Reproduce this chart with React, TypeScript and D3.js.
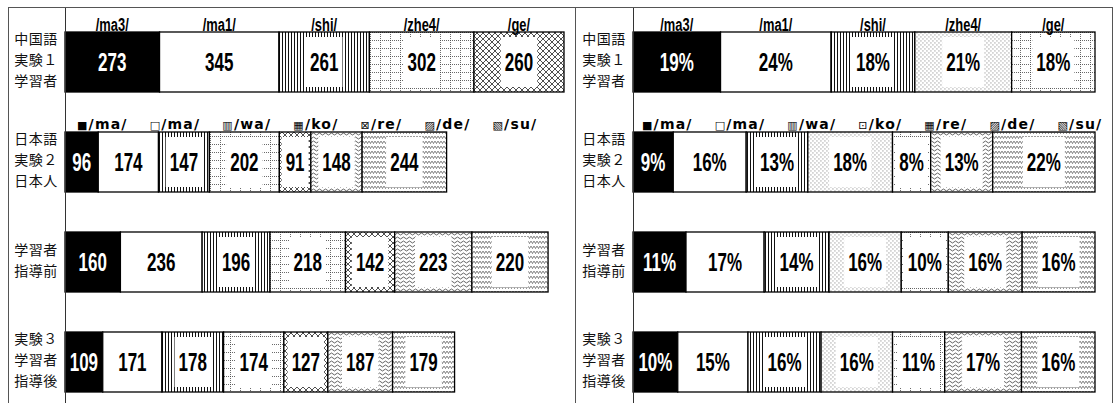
import React from "react";
import * as d3 from "d3";

// ---------- data ----------
const chineseSyllables = ["/ma3/", "/ma1/", "/shi/", "/zhe4/", "/ge/"];
const japaneseSyllables = ["/ma/", "/ma/", "/wa/", "/ko/", "/re/", "/de/", "/su/"];
const leftLegendIcons = ["■", "□", "▥", "▦", "⊠", "▨", "▧"];
const rightLegendIcons = ["■", "□", "▥", "⊡", "▦", "▨", "▧"];

const rowLabels = [
  ["中国語", "実験１", "学習者"],
  ["日本語", "実験２", "日本人"],
  ["学習者", "指導前"],
  ["実験３", "学習者", "指導後"],
];

const exp1Learners = [273, 345, 261, 302, 260];
const exp2Natives = [96, 174, 147, 202, 91, 148, 244];
const learnersBefore = [160, 236, 196, 218, 142, 223, 220];
const learnersAfter = [109, 171, 178, 174, 127, 187, 179];

const exp1Pct = [19, 24, 18, 21, 18];
const exp2Pct = [9, 16, 13, 18, 8, 13, 22];
const beforePct = [11, 17, 14, 16, 10, 16, 16];
const afterPct = [10, 15, 16, 16, 11, 17, 16];

const countRows = [exp1Learners, exp2Natives, learnersBefore, learnersAfter];
const pctRows = [exp1Pct, exp2Pct, beforePct, afterPct];

// pattern ids per segment
const leftPatterns = [
  ["black", "white", "vlines", "grid", "cross"],
  ["black", "white", "vlines", "grid", "cross", "wavy", "zig"],
  ["black", "white", "vlines", "grid", "cross", "wavy", "zig"],
  ["black", "white", "vlines", "grid", "cross", "wavy", "zig"],
];
const rightPatterns = [
  ["black", "white", "vlines", "dots", "grid"],
  ["black", "white", "vlines", "dots", "grid", "wavy", "zig"],
  ["black", "white", "vlines", "dots", "grid", "wavy", "zig"],
  ["black", "white", "vlines", "dots", "grid", "wavy", "zig"],
];

const W = 1115;
const H = 403;
const NUM_FONT = "'Liberation Sans', Arial, sans-serif";
const CJK_FONT = "'Noto Sans CJK JP', sans-serif";

const y = d3.scaleBand<number>().domain([0, 1, 2, 3]).range([32, 392]).paddingInner(0.4).paddingOuter(0);

function Defs() {
  return (
    <defs>
      <pattern id="black" patternUnits="userSpaceOnUse" width="4" height="4">
        <rect width="4" height="4" fill="#000" />
      </pattern>
      <pattern id="white" patternUnits="userSpaceOnUse" width="4" height="4">
        <rect width="4" height="4" fill="#fff" />
      </pattern>
      <pattern id="vlines" patternUnits="userSpaceOnUse" width="3" height="3">
        <rect width="3" height="3" fill="#fff" />
        <rect x="0" width="1" height="3" fill="#111" />
      </pattern>
      <pattern id="grid" patternUnits="userSpaceOnUse" width="10" height="8">
        <rect width="10" height="8" fill="#fff" />
        <path d="M0 0.5 H10" stroke="#444" strokeWidth="0.8" strokeDasharray="1 1" />
        <path d="M0.5 0 V8" stroke="#444" strokeWidth="0.8" strokeDasharray="1 1" />
      </pattern>
      <pattern id="cross" patternUnits="userSpaceOnUse" width="6" height="6">
        <rect width="6" height="6" fill="#fff" />
        <path d="M0 0 L6 6 M6 0 L0 6" stroke="#222" strokeWidth="0.8" />
      </pattern>
      <pattern id="wavy" patternUnits="userSpaceOnUse" width="6" height="4">
        <rect width="6" height="4" fill="#fff" />
        <path d="M0 2 Q1.5 0 3 2 T6 2" fill="none" stroke="#222" strokeWidth="0.7" />
      </pattern>
      <pattern id="zig" patternUnits="userSpaceOnUse" width="3" height="5">
        <rect width="3" height="5" fill="#fff" />
        <path d="M0 1 L1.5 3.5 L3 1" fill="none" stroke="#333" strokeWidth="0.6" />
      </pattern>
      <pattern id="dots" patternUnits="userSpaceOnUse" width="4" height="4">
        <rect width="4" height="4" fill="#fff" />
        <rect x="0.5" y="0.5" width="0.9" height="0.9" fill="#555" />
        <rect x="2.5" y="2.5" width="0.9" height="0.9" fill="#555" />
      </pattern>
    </defs>
  );
}

function estWidth(s: string) {
  let w = 0;
  for (const c of s) w += c === "%" ? 15 : 9.5;
  return w;
}

function Narrow({ x, y, size, squeeze, fill, children }: { x: number; y: number; size: number; squeeze: number; fill?: string; children: React.ReactNode }) {
  return (
    <text
      transform={`translate(${x},${y}) scale(${squeeze},1)`}
      textAnchor="middle"
      fontFamily={NUM_FONT}
      fontWeight="bold"
      fontSize={size}
      fill={fill ?? "#000"}
    >
      {children}
    </text>
  );
}

type PanelProps = {
  axisX: number;
  x: d3.ScaleLinear<number, number>;
  normalize: boolean;
  patterns: string[][];
  labels: (r: number, i: number) => string;
  labelX: number;
  icons: string[];
  legendX: number;
};

function Panel({ axisX, x, normalize, patterns, labels, labelX, icons, legendX }: PanelProps) {
  return (
    <g>
      {countRows.map((row, r) => {
        const total = d3.sum(row);
        const cum = d3.cumsum(row);
        const scale = (v: number) => (normalize ? x(v / total) : x(v));
        const top = y(r)!;
        const bh = y.bandwidth();
        return (
          <g key={r}>
            {row.map((v, i) => {
              const x0 = scale(cum[i] - v);
              const x1 = scale(cum[i]);
              const cx = (x0 + x1) / 2;
              const cy = top + bh / 2;
              const lab = labels(r, i);
              const pat = patterns[r][i];
              const bw = Math.min(estWidth(lab) + 8, x1 - x0 - 4);
              return (
                <g key={i}>
                  <rect x={x0} y={top} width={x1 - x0} height={bh} fill={`url(#${pat})`} stroke="#000" strokeWidth={1.3} />
                  {pat !== "black" && pat !== "white" && (
                    <rect x={cx - bw / 2} y={top + 5} width={bw} height={bh - 10} fill="#fff" />
                  )}
                  <Narrow x={cx} y={cy + 9} size={25} squeeze={0.68} fill={pat === "black" ? "#fff" : "#000"}>
                    {lab}
                  </Narrow>
                </g>
              );
            })}
            {r === 0 &&
              chineseSyllables.map((s, i) => (
                <Narrow key={"h" + i} x={(scale(cum[i] - row[i]) + scale(cum[i])) / 2} y={top - 1} size={19} squeeze={0.68}>
                  {s}
                </Narrow>
              ))}
            {rowLabels[r].map((t, k) => (
              <text
                key={"l" + k}
                x={labelX}
                y={top + bh / 2 - 1.5 + (k - (rowLabels[r].length - 1) / 2) * 21}
                dy="0.35em"
                textAnchor="middle"
                fontFamily={CJK_FONT}
                fontSize={14}
                letterSpacing={0.5}
                fill="#111"
              >
                {t}
              </text>
            ))}
          </g>
        );
      })}
      <text x={legendX} y={129} fontFamily="'DejaVu Sans', sans-serif" fontWeight="bold" fontSize={14} letterSpacing={1.2}>
        {japaneseSyllables.map((s, i) => (
          <React.Fragment key={i}>
            <tspan dx={i === 0 ? 0 : 22} fontSize={11} fontWeight="normal">
              {icons[i]}
            </tspan>
            <tspan fontSize={14} fontWeight="bold">{s}</tspan>
          </React.Fragment>
        ))}
      </text>
      <line x1={axisX} x2={axisX} y1={7} y2={H} stroke="#333" strokeWidth={1} />
    </g>
  );
}

export default function App() {
  const maxTotal = d3.max(countRows, (r) => d3.sum(r))!;
  const xLeft = d3.scaleLinear().domain([0, maxTotal]).range([65, 564]);
  const xRight = d3.scaleLinear().domain([0, 1]).range([633, 1095]);
  return (
    <svg
      width={W}
      height={H}
      style={{ position: "fixed", left: 0, top: 0, background: "#fff" }}
      viewBox={`0 0 ${W} ${H}`}
    >
      <Defs />
      <rect width={W} height={H} fill="#fff" />
      <clipPath id="clipL">
        <rect x={8} y={7} width={567} height={H} />
      </clipPath>
      <clipPath id="clipR">
        <rect x={576} y={7} width={536} height={H} />
      </clipPath>
      <g clipPath="url(#clipL)">
        <Panel
          axisX={65.5}
          x={xLeft}
          normalize={false}
          patterns={leftPatterns}
          labels={(r, i) => String(countRows[r][i])}
          labelX={36}
          icons={leftLegendIcons}
          legendX={77}
        />
      </g>
      <g clipPath="url(#clipR)">
        <Panel
          axisX={633.5}
          x={xRight}
          normalize={true}
          patterns={rightPatterns}
          labels={(r, i) => pctRows[r][i] + "%"}
          labelX={604}
          icons={rightLegendIcons}
          legendX={642}
        />
      </g>
      <line x1={8} x2={1113} y1={7.5} y2={7.5} stroke="#555" />
      <line x1={8.5} x2={8.5} y1={7} y2={H} stroke="#555" />
      <line x1={575.5} x2={575.5} y1={7} y2={H} stroke="#555" />
      <line x1={1112.5} x2={1112.5} y1={7} y2={H} stroke="#555" />
    </svg>
  );
}
